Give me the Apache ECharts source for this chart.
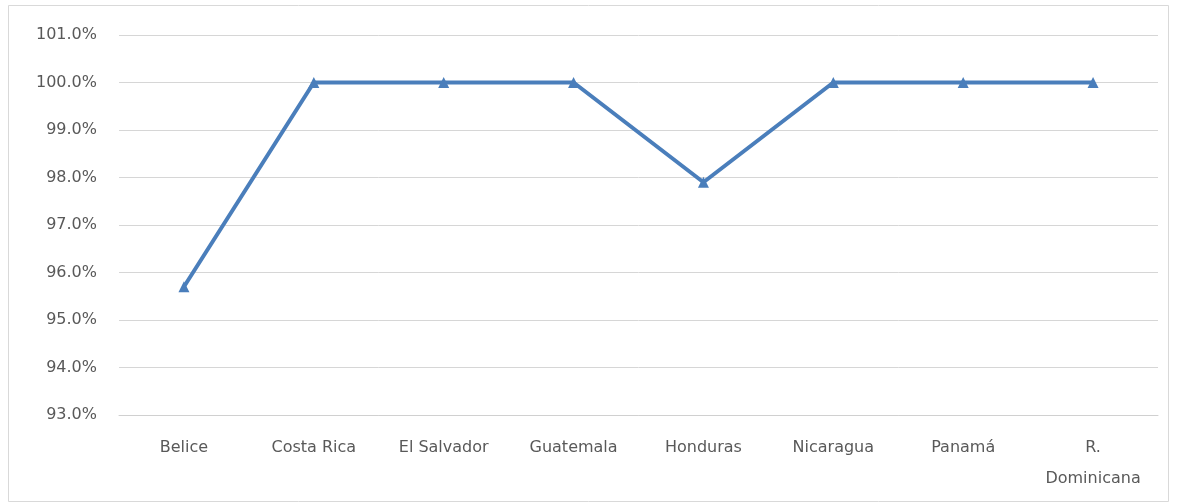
<!DOCTYPE html>
<html><head><meta charset="utf-8">
<script src="https://cdn.jsdelivr.net/npm/echarts@6/dist/echarts.min.js"></script>
<style>html,body{margin:0;padding:0;background:#fff}#c{width:1182px;height:504px}</style>
</head><body><div id="c"></div>
<script>
const categories = ['Belice','Costa Rica','El Salvador','Guatemala','Honduras','Nicaragua','Panamá','R. Dominicana'];
const values = [95.7, 100.0, 100.0, 100.0, 97.9, 100.0, 100.0, 100.0];
const yMin = 93, yMax = 101, yStep = 1;

const chart = echarts.init(document.getElementById('c'));
const txt = '#595959';
chart.setOption({
  animation: false,
  backgroundColor: '#fff',
  graphic: [{type:'rect', shape:{x:8.5,y:5.5,width:1160,height:496}, style:{fill:'none',stroke:'#d9d9d9',lineWidth:1}, silent:true}],
  grid: {left:119, right:24, top:35, bottom:89},
  xAxis: {
    type:'category', data:categories, boundaryGap:true,
    axisLine:{lineStyle:{color:'#d0d0d0'}}, axisTick:{show:false},
    axisLabel:{color:txt, fontFamily:'DejaVu Sans', fontSize:16, margin:17, lineHeight:31,
      formatter: v => v.replace('R. ', 'R.\n')}
  },
  yAxis: {
    type:'value', min:yMin, max:yMax, interval:yStep,
    axisLine:{show:false}, axisTick:{show:false},
    splitLine:{lineStyle:{color:'#d6d6d6', width:1}},
    axisLabel:{color:txt, fontFamily:'DejaVu Sans', fontSize:16, margin:22, formatter: v => v.toFixed(1)+'%'}
  },
  series: [{
    type:'line', data:values, symbol:'triangle', symbolSize:11,
    lineStyle:{color:'#4a7ebb', width:4}, itemStyle:{color:'#4a7ebb'}
  }]
});
</script></body></html>
